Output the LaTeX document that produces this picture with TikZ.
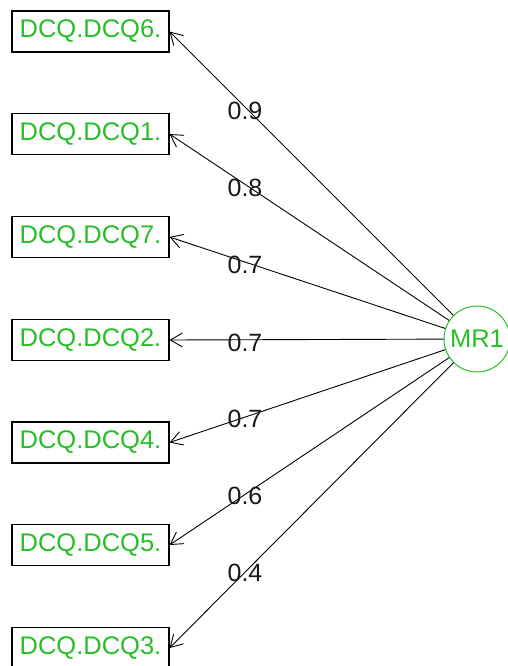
\documentclass[tikz,border=0pt]{standalone}
\usepackage{fontspec}
\setmainfont{Liberation Sans}
\usetikzlibrary{arrows.meta}
\definecolor{fagreen}{RGB}{40,190,40}
\tikzset{
  itembox/.style={draw=black, line width=1.1pt, minimum width=157pt, minimum height=41pt,
    inner sep=0pt, text=fagreen, font=\fontsize{25.5pt}{28pt}\selectfont},
  latent/.style={circle, draw=fagreen, line width=1pt, minimum size=66pt, inner sep=0pt,
    text=fagreen, font=\fontsize{25.5pt}{28pt}\selectfont},
  arr/.style={line width=0.9pt, -{Straight Barb[length=12pt,width=14pt,line width=0.9pt]}},
  lbl/.style={text=black!90, font=\fontsize{25pt}{27pt}\selectfont, inner sep=0pt}
}
\begin{document}
\begin{tikzpicture}[x=1pt,y=-1pt]
\useasboundingbox (0,0) rectangle (508,666);
\node[itembox] (b6) at (90.5,31.5) {DCQ.DCQ6.};
\node[itembox] (b1) at (90.5,134) {DCQ.DCQ1.};
\node[itembox] (b7) at (90.5,237) {DCQ.DCQ7.};
\node[itembox] (b2) at (90.5,340) {DCQ.DCQ2.};
\node[itembox] (b4) at (90.5,442.5) {DCQ.DCQ4.};
\node[itembox] (b5) at (90.5,545) {DCQ.DCQ5.};
\node[itembox] (b3) at (90.5,648) {DCQ.DCQ3.};
\node[latent] (mr) at (477,339) {MR1};
\draw[arr] (mr) -- (b6.east);
\draw[arr] (mr) -- (b1.east);
\draw[arr] (mr) -- (b7.east);
\draw[arr] (mr) -- (b2.east);
\draw[arr] (mr) -- (b4.east);
\draw[arr] (mr) -- (b5.east);
\draw[arr] (mr) -- (b3.east);
\node[lbl] (l6) at (245,111) {0.9};
\node[lbl] (l1) at (245,188) {0.8};
\node[lbl] (l7) at (245,265) {0.7};
\node[lbl] (l2) at (245,343) {0.7};
\node[lbl] (l4) at (245,418.5) {0.7};
\node[lbl] (l5) at (245,496) {0.6};
\node[lbl] (l3) at (245,573) {0.4};
\end{tikzpicture}
\end{document}
